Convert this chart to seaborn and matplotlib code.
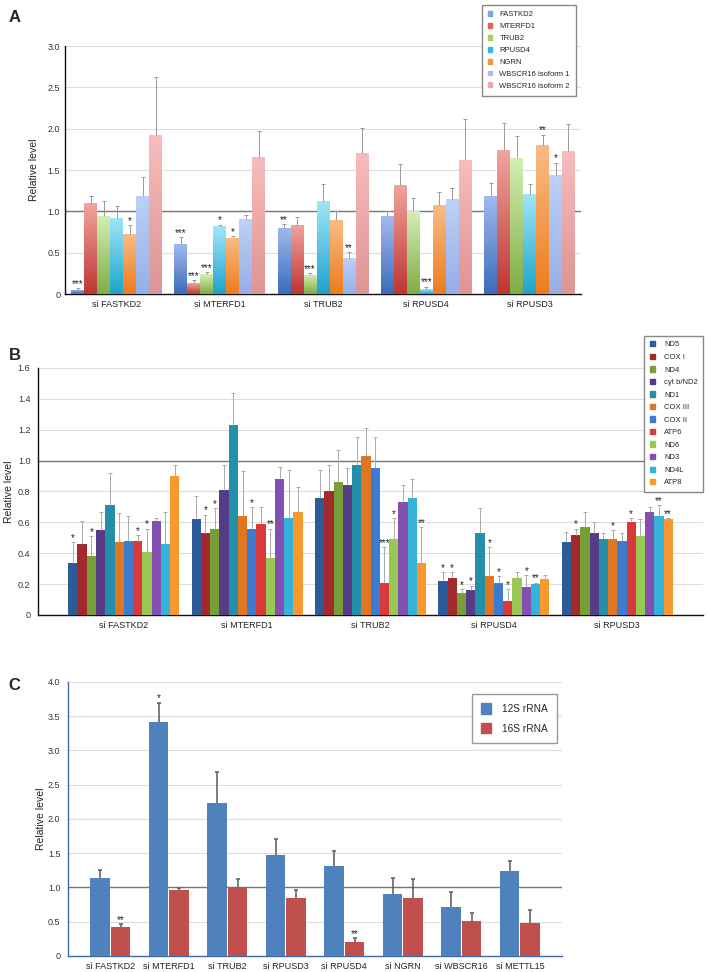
import numpy as np
import pandas as pd
import matplotlib
matplotlib.use("Agg")
import matplotlib.pyplot as plt
import matplotlib.patches as mpatches
from matplotlib.ticker import FuncFormatter
from matplotlib.colors import LinearSegmentedColormap
import seaborn as sns

sns.set_style("white")
plt.rcParams['font.family'] = ['Liberation Sans', 'DejaVu Sans']

#%% data - panel A
a_groups = ["si FASTKD2", "si MTERFD1", "si TRUB2", "si RPUSD4", "si RPUSD3"]
a_series = ["FASTKD2", "MTERFD1", "TRUB2", "RPUSD4", "NGRN",
            "WBSCR16 isoform 1", "WBSCR16 isoform 2"]
a_values = [[0.05, 0.60, 0.80, 0.94, 1.19],
            [1.10, 0.13, 0.84, 1.32, 1.74],
            [0.95, 0.24, 0.23, 1.00, 1.65],
            [0.92, 0.82, 1.13, 0.06, 1.21],
            [0.73, 0.68, 0.89, 1.08, 1.80],
            [1.19, 0.91, 0.44, 1.15, 1.44],
            [1.93, 1.66, 1.71, 1.62, 1.73]]
a_errors = [[0.02, 0.09, 0.05, 0.07, 0.15],
            [0.09, 0.04, 0.09, 0.25, 0.33],
            [0.17, 0.03, 0.02, 0.16, 0.26],
            [0.14, 0.02, 0.20, 0.03, 0.12],
            [0.10, 0.02, 0.11, 0.16, 0.13],
            [0.22, 0.05, 0.07, 0.13, 0.15],
            [0.70, 0.31, 0.30, 0.50, 0.33]]
a_stars = [["***", "***", "**", "", ""],
           ["", "***", "", "", ""],
           ["", "***", "***", "", ""],
           ["", "*", "", "***", ""],
           ["*", "*", "", "", "**"],
           ["", "", "**", "", "*"],
           ["", "", "", "", ""]]
a_legend_colors = ["#7fa2e2", "#e2664a", "#a4d45a", "#34b8e6", "#f8923e", "#b4b8f0", "#f2a4aa"]
a_top_colors = ["#a0baee", "#f2a49c", "#d4eeb4", "#a0e6f8", "#f9bc86", "#bcd2f8", "#f8bcbc"]
a_bottom_colors = ["#3c6cbc", "#be3634", "#7eae44", "#1ea4cc", "#ee7c1c", "#96aee6", "#de9494"]

#%% data - panel B
b_groups = ["si FASTKD2", "si MTERFD1", "si TRUB2", "si RPUSD4", "si RPUSD3"]
b_series = ["ND5", "COX I", "ND4", "cyt b/ND2", "ND1", "COX III", "COX II",
            "ATP6", "ND6", "ND3", "ND4L", "ATP8"]
b_values = [[0.34, 0.62, 0.76, 0.22, 0.47],
            [0.46, 0.53, 0.80, 0.24, 0.52],
            [0.38, 0.56, 0.86, 0.14, 0.57],
            [0.55, 0.81, 0.84, 0.16, 0.53],
            [0.71, 1.23, 0.97, 0.53, 0.49],
            [0.47, 0.64, 1.03, 0.25, 0.49],
            [0.48, 0.56, 0.95, 0.21, 0.48],
            [0.48, 0.59, 0.21, 0.09, 0.60],
            [0.41, 0.37, 0.49, 0.24, 0.51],
            [0.61, 0.88, 0.73, 0.18, 0.67],
            [0.46, 0.63, 0.76, 0.20, 0.64],
            [0.90, 0.67, 0.34, 0.23, 0.62]]
b_errors = [[0.13, 0.15, 0.18, 0.06, 0.07],
            [0.15, 0.12, 0.17, 0.04, 0.04],
            [0.13, 0.13, 0.21, 0.03, 0.10],
            [0.12, 0.16, 0.11, 0.03, 0.07],
            [0.21, 0.21, 0.18, 0.16, 0.04],
            [0.19, 0.29, 0.18, 0.19, 0.06],
            [0.16, 0.14, 0.20, 0.04, 0.05],
            [0.04, 0.11, 0.23, 0.08, 0.03],
            [0.15, 0.19, 0.14, 0.04, 0.11],
            [0.02, 0.08, 0.11, 0.08, 0.03],
            [0.21, 0.31, 0.12, 0.01, 0.07],
            [0.07, 0.16, 0.23, 0.03, 0.01]]
b_stars = [["*", "", "", "*", ""],
           ["", "*", "", "*", "*"],
           ["*", "*", "", "*", ""],
           ["", "", "", "*", ""],
           ["", "", "", "", ""],
           ["", "", "", "*", "*"],
           ["", "*", "", "*", ""],
           ["*", "", "***", "*", "*"],
           ["*", "**", "*", "", ""],
           ["", "", "", "*", ""],
           ["", "", "", "**", "**"],
           ["", "", "**", "", "**"]]
b_colors = ["#2d5b9a", "#a32a2c", "#76a035", "#583b86", "#2390aa", "#e07622",
            "#3d7bd0", "#d8393a", "#9ac855", "#8150b0", "#35b2da", "#f8982e"]

#%% data - panel C
c_groups = ["si FASTKD2", "si MTERFD1", "si TRUB2", "si RPUSD3", "si RPUSD4",
            "si NGRN", "si WBSCR16", "si METTL15"]
c_series = ["12S rRNA", "16S rRNA"]
c_values = [[1.14, 3.42, 2.23, 1.47, 1.32, 0.91, 0.71, 1.24],
            [0.43, 0.97, 1.01, 0.85, 0.21, 0.85, 0.51, 0.48]]
c_errors = [[0.12, 0.28, 0.45, 0.24, 0.21, 0.23, 0.22, 0.14],
            [0.03, 0.02, 0.11, 0.12, 0.05, 0.27, 0.11, 0.19]]
c_stars = [["", "*", "", "", "", "", "", ""],
           ["**", "", "", "", "**", "", "", ""]]
c_colors = ["#4f81bd", "#c0504d"]


def fmt(v, pos):
    return "0" if v == 0 else "%.1f" % v


def draw_panel(ax, groups, series, values, errors, stars, colors, width, gap,
               ecolor, elw, cap, star_size):
    df = pd.DataFrame({"group": np.tile(groups, len(series)),
                       "series": np.repeat(series, len(groups)),
                       "value": np.ravel(values)})
    sns.barplot(data=df, x="group", y="value", hue="series", order=groups,
                hue_order=series, palette=colors, width=width, gap=gap,
                errorbar=None, saturation=1, edgecolor="none", linewidth=0,
                legend=False, ax=ax, zorder=3)
    for cont, err, st in zip(ax.containers, errors, stars):
        xs = [p.get_x() + p.get_width() / 2 for p in cont]
        hs = [p.get_height() for p in cont]
        eb = ax.errorbar(xs, hs, yerr=[np.zeros(len(err)), err], fmt="none",
                         ecolor=ecolor, elinewidth=elw, capsize=cap, capthick=elw, zorder=4)
        # only keep the upper cap
        eb[1][0].remove()
        for x, h, e, s in zip(xs, hs, err, st):
            if s:
                ax.annotate(s, (x, h + e), xytext=(0, 0.8), textcoords="offset points",
                            ha="center", va="baseline", fontsize=star_size, color="#222222")
    ax.set_xlabel("")
    ax.set_ylabel("Relative level", fontsize=7.5, color="#222222")
    ax.yaxis.set_major_formatter(FuncFormatter(fmt))
    ax.set_xticks(np.arange(0.5, len(groups) - 1, 1), minor=True)
    ax.tick_params(axis="x", which="major", length=0, labelsize=6.5, pad=4, colors="#222222")
    ax.tick_params(axis="x", which="minor", length=3, color="#888888")
    ax.tick_params(axis="y", labelsize=6.5, colors="#333333", length=2)
    ax.spines["top"].set_visible(False)
    ax.spines["right"].set_visible(False)
    ax.set_axisbelow(True)
    ax.yaxis.grid(True, color="#dddddd", linewidth=0.8)
    ax.axhline(1.0, color="#777777", linewidth=1.0, zorder=2)


fig = plt.figure(figsize=(7.09, 9.72), dpi=100)

#%% panel A
axA = fig.add_axes([0.0917, 0.6975, 0.728, 0.2551])
draw_panel(axA, a_groups, a_series, a_values, a_errors, a_stars, a_legend_colors,
           0.88, 0, "#999999", 0.7, 1.2, 7)
# gradient fill of the bars
for cont, top, bot in zip(axA.containers, a_top_colors, a_bottom_colors):
    cmap = LinearSegmentedColormap.from_list("g", [bot, top])
    for p in cont:
        x0, w, h = p.get_x(), p.get_width(), p.get_height()
        im = axA.imshow(np.linspace(0, 1, 64).reshape(-1, 1), extent=[x0, x0 + w, 0, h],
                        origin="lower", cmap=cmap, aspect="auto", zorder=3.5)
        im.set_clip_path(p)
axA.set_xlim(-0.5, len(a_groups) - 0.5)
axA.set_ylim(0, 3.0)
axA.set_yticks(np.arange(0, 3.01, 0.5))
axA.tick_params(axis="y", length=0)
for s in ["left", "bottom"]:
    axA.spines[s].set_color("#111111")
    axA.spines[s].set_linewidth(1.0)
axA.yaxis.labelpad = 6
hA = [mpatches.Patch(color=c) for c in a_legend_colors]
axA.legend(hA, a_series, loc="upper right", bbox_to_anchor=(0.997, 1.18), fontsize=5.5,
           frameon=True, fancybox=False, edgecolor="#888888", handlelength=0.6,
           handleheight=0.6, handletextpad=0.9, labelspacing=0.62, borderpad=0.8,
           framealpha=1)

#%% panel B
axB = fig.add_axes([0.0536, 0.3673, 0.938, 0.2541])
draw_panel(axB, b_groups, b_series, b_values, b_errors, b_stars, b_colors,
           0.9, 0, "#aaaaaa", 0.7, 1.2, 7)
axB.set_ylim(0, 1.6)
axB.set_yticks(np.arange(0, 1.61, 0.2))
for s in ["left", "bottom"]:
    axB.spines[s].set_color("#111111")
    axB.spines[s].set_linewidth(1.0)
axB.yaxis.labelpad = 3
hB = [mpatches.Patch(color=c) for c in b_colors]
axB.legend(hB, b_series, loc="upper right", bbox_to_anchor=(1.006, 1.146), fontsize=5.5,
           frameon=True, fancybox=False, edgecolor="#888888", handlelength=0.7,
           handleheight=0.7, handletextpad=1.2, labelspacing=0.68, borderpad=0.7,
           framealpha=1)

#%% panel C
axC = fig.add_axes([0.0959, 0.0165, 0.697, 0.2819])
draw_panel(axC, c_groups, c_series, c_values, c_errors, c_stars, c_colors,
           0.7, 0.06, "#666666", 1.2, 1.5, 7)
axC.set_ylim(0, 4.0)
axC.set_yticks(np.arange(0, 4.01, 0.5))
for s in ["left", "bottom"]:
    axC.spines[s].set_color("#3f6aaa")
    axC.spines[s].set_linewidth(1.0)
axC.tick_params(axis="x", which="minor", color="#3f6aaa")
axC.tick_params(axis="y", color="#3f6aaa")
axC.yaxis.labelpad = 1
hC = [mpatches.Patch(color=c) for c in c_colors]
axC.legend(hC, c_series, loc="upper right", bbox_to_anchor=(1.0, 0.974), fontsize=7.3,
           frameon=True, fancybox=False, edgecolor="#999999", handlelength=1.0,
           handleheight=1.2, handletextpad=1.1, labelspacing=0.9, borderpad=0.9,
           framealpha=1)

for lab, y in [("A", 17), ("B", 355), ("C", 686)]:
    fig.text(0.012, 1 - y / 972, lab, fontsize=12, fontweight="bold", va="center")

fig.savefig("out.png", dpi=100)
